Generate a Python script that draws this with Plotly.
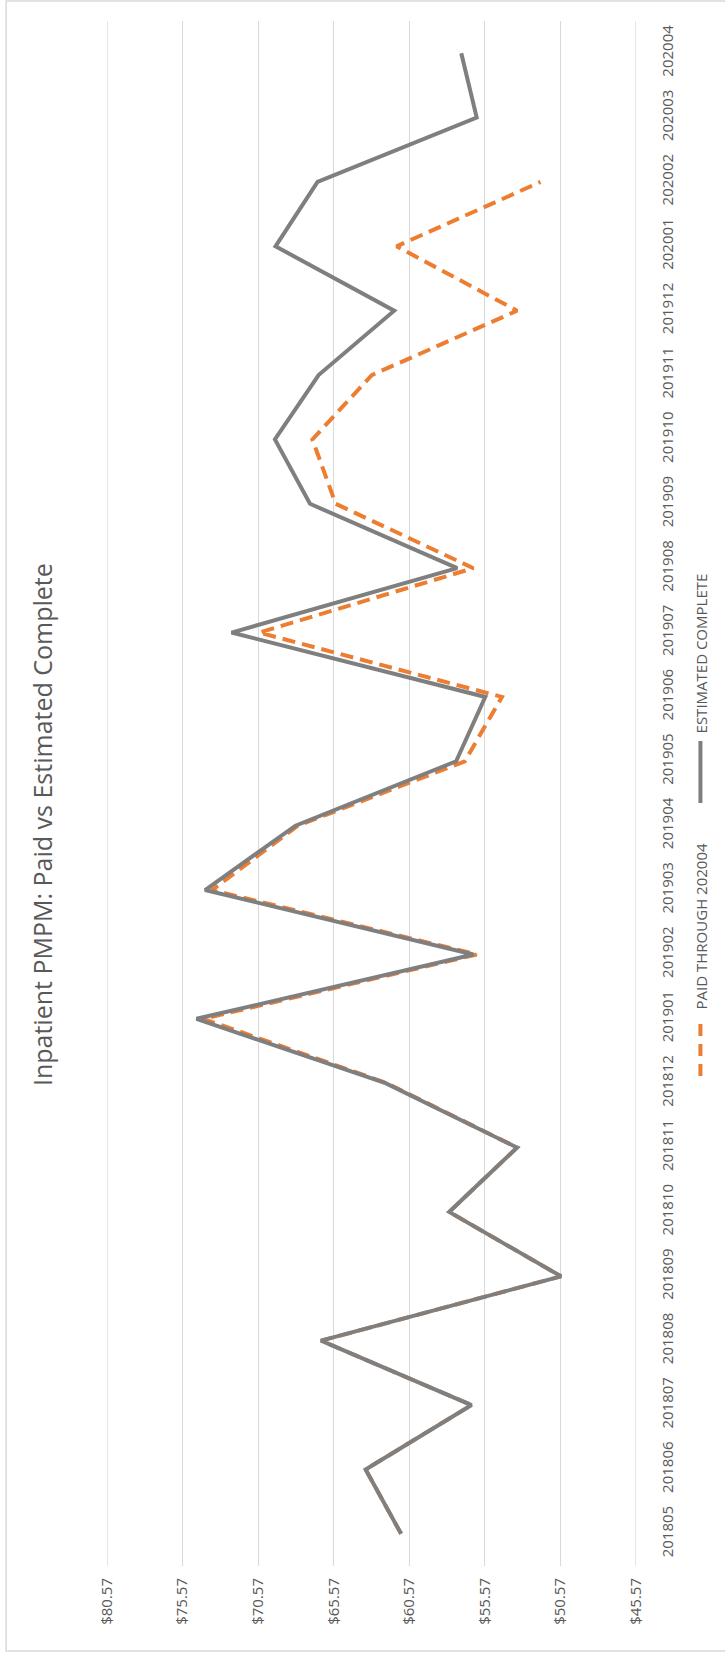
import plotly.graph_objects as go

# Monthly inpatient PMPM, May 2018 - April 2020
months = [
    "201805", "201806", "201807", "201808", "201809", "201810",
    "201811", "201812", "201901", "201902", "201903", "201904",
    "201905", "201906", "201907", "201908", "201909", "201910",
    "201911", "201912", "202001", "202002", "202003", "202004",
]

estimated_complete = [
    61.11, 63.46, 56.45, 66.41, 50.53, 57.93,
    53.44, 62.14, 74.65, 56.33, 74.08, 68.10,
    57.47, 55.54, 72.33, 57.40, 67.14, 69.46,
    66.57, 61.57, 69.42, 66.64, 56.11, 57.13,
]

paid_through_202004 = [
    61.11, 63.46, 56.45, 66.41, 50.53, 57.93,
    53.44, 62.05, 74.20, 56.11, 73.63, 67.94,
    56.90, 54.44, 70.51, 56.33, 65.44, 66.98,
    63.05, 53.44, 61.41, 51.89, None, None,
]

value_ticks = [45.57, 50.57, 55.57, 60.57, 65.57, 70.57, 75.57, 80.57]
value_tick_labels = ["$45.57", "$50.57", "$55.57", "$60.57",
                     "$65.57", "$70.57", "$75.57", "$80.57"]

series_names = ["PAID THROUGH 202004", "ESTIMATED COMPLETE"]
chart_title = "Inpatient PMPM: Paid vs Estimated Complete"

# ---- page geometry (pixels) ----
W, H = 725, 1655
PLOT_L, PLOT_R, PLOT_T, PLOT_B = 107, 636.5, 21, 1566
PW, PH = PLOT_R - PLOT_L, PLOT_B - PLOT_T

TEXT = "#595959"
GRID = "#D9D9D9"
ORANGE = "#ED7D31"
GREY = "#7F7F7F"
FONT = "Open Sans"
DASH = "13px,7px"


def px_x(x):
    return (x - PLOT_L) / PW


def px_y(y):
    return (PLOT_B - y) / PH


fig = go.Figure()

fig.add_trace(go.Scatter(
    x=paid_through_202004, y=months, mode="lines", name=series_names[0],
    line=dict(color=ORANGE, width=4, dash=DASH), connectgaps=False,
    hoverinfo="skip",
))
fig.add_trace(go.Scatter(
    x=estimated_complete, y=months, mode="lines", name=series_names[1],
    line=dict(color=GREY, width=4), hoverinfo="skip",
))

# chart-area border
shapes = [
    dict(type="rect", xref="paper", yref="paper",
         x0=px_x(6), x1=px_x(735), y0=px_y(1651), y1=px_y(1),
         line=dict(color=GRID, width=1.5), fillcolor="rgba(0,0,0,0)",
         layer="below"),
]

# gridlines at both ends of the value range
for edge in (value_ticks[0], value_ticks[-1]):
    shapes.append(dict(type="line", xref="x", yref="paper",
                       x0=edge, x1=edge, y0=0, y1=1,
                       line=dict(color=GRID, width=1.3), layer="below"))

# legend keys, turned on their side like the rest of the chart
LEG_X = 701
shapes.append(dict(type="line", xref="paper", yref="paper",
                   x0=px_x(LEG_X), x1=px_x(LEG_X),
                   y0=px_y(1076), y1=px_y(1024),
                   line=dict(color=ORANGE, width=4, dash="12px,8px")))
shapes.append(dict(type="line", xref="paper", yref="paper",
                   x0=px_x(LEG_X), x1=px_x(LEG_X),
                   y0=px_y(803), y1=px_y(741),
                   line=dict(color=GREY, width=4)))

annotations = [
    dict(text=chart_title, xref="paper", yref="paper",
         x=px_x(42), y=px_y(825), textangle=-90, showarrow=False,
         xanchor="center", yanchor="middle",
         font=dict(family=FONT, size=25, color=TEXT)),
    dict(text=series_names[0], xref="paper", yref="paper",
         x=px_x(LEG_X + 1), y=px_y(926), textangle=-90, showarrow=False,
         xanchor="center", yanchor="middle",
         font=dict(family=FONT, size=15, color=TEXT)),
    dict(text=series_names[1], xref="paper", yref="paper",
         x=px_x(LEG_X + 1), y=px_y(653), textangle=-90, showarrow=False,
         xanchor="center", yanchor="middle",
         font=dict(family=FONT, size=15, color=TEXT)),
]

fig.update_layout(
    width=W, height=H,
    margin=dict(l=PLOT_L, r=W - PLOT_R, t=PLOT_T, b=H - PLOT_B, pad=0),
    paper_bgcolor="white", plot_bgcolor="white",
    showlegend=False,
    shapes=shapes, annotations=annotations,
    xaxis=dict(
        range=[80.57, 45.57], tickvals=value_ticks, ticktext=value_tick_labels,
        tickangle=-90, showgrid=True, gridcolor=GRID, gridwidth=1.3,
        zeroline=False, showline=False, ticks="",
        ticklabelstandoff=8,
        tickfont=dict(family=FONT, size=15, color=TEXT),
    ),
    yaxis=dict(
        type="category", categoryorder="array", categoryarray=months,
        range=[-0.5, len(months) - 0.5], side="right",
        tickangle=-90, showgrid=False, zeroline=False,
        showline=False, ticks="", ticklabelstandoff=21,
        tickfont=dict(family=FONT, size=15, color=TEXT),
    ),
)

fig.write_html("out.html")
